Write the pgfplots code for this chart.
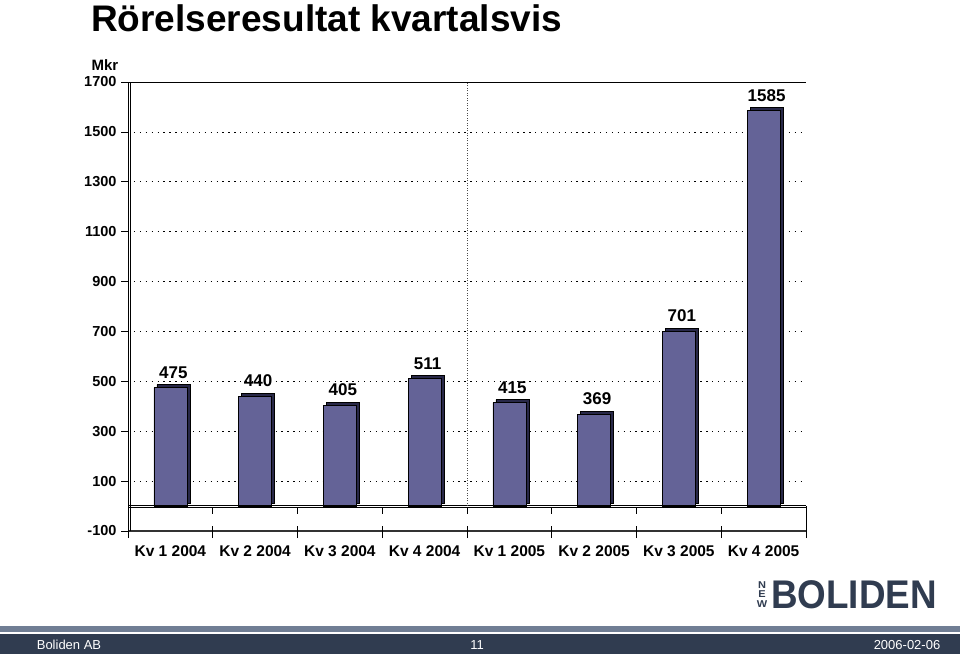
\documentclass[border=0pt]{standalone}
\usepackage{pgfplots}
\pgfplotsset{compat=1.18}
\usepackage{fontspec}
\setmainfont{Liberation Sans}
\definecolor{barfill}{RGB}{100,99,151}
\definecolor{barside}{RGB}{40,40,72}
\definecolor{navy}{RGB}{48,60,80}
\definecolor{band}{RGB}{112,126,148}

\begin{document}
\begin{tikzpicture}[x=1pt,y=1pt]
\useasboundingbox (0,0) rectangle (960,654);
\fill[white] (0,0) rectangle (960,654);

% title
\node[anchor=west,inner sep=0,font=\fontsize{37}{40}\selectfont\bfseries] at (91,636) {Rörelseresultat kvartalsvis};
\node[inner sep=0,font=\fontsize{15}{17}\selectfont\bfseries] at (105,589) {Mkr};

\begin{axis}[
  at={(128pt,123pt)}, anchor=south west,
  width=678pt, height=449pt, scale only axis,
  xmin=-0.5, xmax=7.5, ymin=-100, ymax=1700,
  axis x line*=bottom, axis y line*=left,
  x axis line style={line width=2.2pt, draw=black!80},
  y axis line style={line width=0.6pt},
  ytick={-100,100,...,1700},
  scaled y ticks=false,
  /pgf/number format/1000 sep={},
  /pgf/number format/assume math mode=true,
  tick align=outside,
  major tick length=7pt,
  y tick style={black, line width=0.6pt},
  yticklabel style={font=\fontsize{14.5}{16}\selectfont\bfseries, xshift=-1pt},
  xtick={0,...,7},
  x tick style={draw=none},
  xticklabels={Kv 1 2004, Kv 2 2004, Kv 3 2004, Kv 4 2004, Kv 1 2005, Kv 2 2005, Kv 3 2005, Kv 4 2005},
  xticklabel style={font=\fontsize{15.5}{17}\selectfont\bfseries, yshift=-4pt},
  ymajorgrids,
  grid style={black, line width=0.7pt, dash pattern=on 1.3pt off 4.6pt},
  clip=false,
]
% depth of the bars
\addplot[ybar, bar width=33pt, bar shift=0pt, fill=barside, draw=black, line width=0.6pt, xshift=3pt, yshift=3pt]
  coordinates {(0,475) (1,440) (2,405) (3,511) (4,415) (5,369) (6,701) (7,1585)};
% front of the bars
\addplot[ybar, bar width=33pt, bar shift=0pt, fill=barfill, draw=black, line width=0.6pt,
  nodes near coords,
  every node near coord/.append style={font=\fontsize{17}{19}\selectfont\bfseries, anchor=south, inner sep=0pt, yshift=9pt, xshift=3pt}]
  coordinates {(0,475) (1,440) (2,405) (3,511) (4,415) (5,369) (6,701) (7,1585)};

% floor and frame
\draw[black, line width=0.6pt] ([yshift=1.2pt]axis cs:-0.5,0) -- ([yshift=1.2pt]axis cs:7.5,0);
\draw[black, line width=0.6pt] ([yshift=-1.2pt]axis cs:-0.5,0) -- ([yshift=-1.2pt]axis cs:7.5,0);
\draw[black, line width=0.6pt] ([xshift=2.5pt]axis cs:-0.5,-100) -- ([xshift=2.5pt]axis cs:-0.5,1700);
\draw[black, line width=0.6pt] (axis cs:7.5,-100) -- (axis cs:7.5,0);
\draw[black, line width=0.7pt] (axis cs:-0.5,1700) -- (axis cs:7.5,1700);
\draw[black!70, line width=0.5pt, dash pattern=on 1pt off 1.5pt] (axis cs:3.5,0) -- (axis cs:3.5,1700);
\pgfplotsinvokeforeach{-0.5,0.5,1.5,2.5,3.5,4.5,5.5,6.5,7.5}{
  \draw[black, line width=0.6pt] ([yshift=-7pt]axis cs:#1,-100) -- ([yshift=5pt]axis cs:#1,-100);
  \draw[black, line width=0.6pt] ([yshift=-2pt]axis cs:#1,0) -- ([yshift=-8pt]axis cs:#1,0);
}
\end{axis}

% logo
\node[inner sep=0,text=navy,font=\fontsize{40}{42}\selectfont\bfseries,xscale=0.92] at (854,59.5) {BOLIDEN};
\node[inner sep=0,text=navy,font=\fontsize{11}{12}\selectfont\bfseries,yscale=0.9] at (762,69) {N};
\node[inner sep=0,text=navy,font=\fontsize{11}{12}\selectfont\bfseries,yscale=0.9] at (762,59.5) {E};
\node[inner sep=0,text=navy,font=\fontsize{11}{12}\selectfont\bfseries,yscale=0.9] at (762,50) {W};

% footer
\fill[band] (0,22) rectangle (960,28);
\fill[navy] (0,0) rectangle (960,20);
\node[inner sep=0,text=white,font=\fontsize{13}{15}\selectfont] at (69,9) {Boliden AB};
\node[inner sep=0,text=white,font=\fontsize{13}{15}\selectfont] at (477,9) {11};
\node[inner sep=0,text=white,font=\fontsize{13}{15}\selectfont] at (907,9) {2006-02-06};
\end{tikzpicture}
\end{document}
